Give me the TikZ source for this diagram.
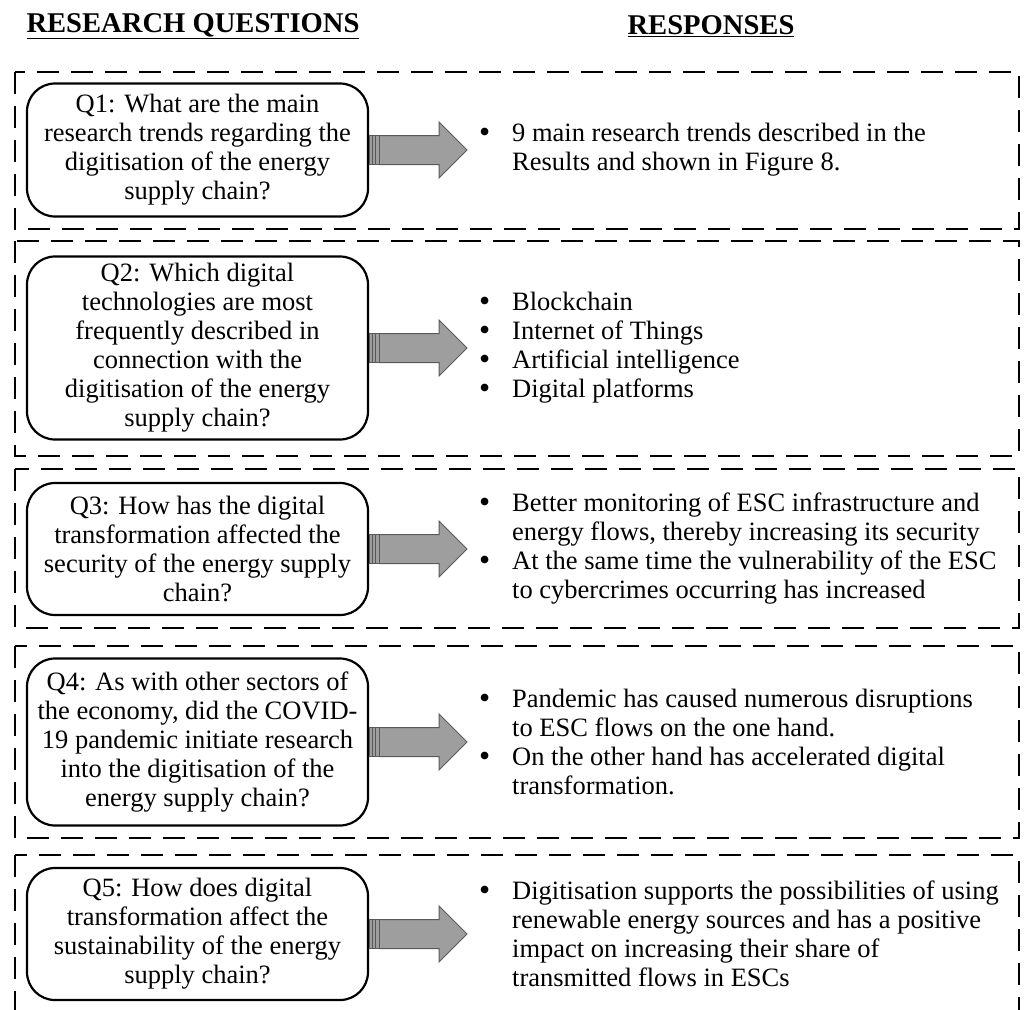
\documentclass[tikz,border=0pt]{standalone}
\usepackage{fontspec}
\setmainfont{Liberation Serif}
\usetikzlibrary{calc}

\tikzset{
  x=1pt, y=-1pt,
  body/.style={font=\fontsize{26.5}{29}\selectfont},
  qbox/.style={body, draw, line width=2.2pt, rounded corners=28pt,
    minimum width=341pt, align=center, inner sep=0pt},
  resp/.style={body, anchor=west, align=left, inner sep=0pt},
  group/.style={draw, line width=2.6pt, dash pattern=on 22pt off 12pt},
  heading/.style={font=\fontsize{28.6}{32}\selectfont\bfseries},
  arrowbody/.style={fill=black!38, draw=black!65, line width=1pt},
}

% bullet item lines
\newcommand\itm{\makebox[33pt][l]{\raisebox{-1pt}{\scalebox{1.2}{•}}}}
\newcommand\cont{\hspace*{33pt}}

% broad grey arrow with a ribbed tail, from the east side of #1 to the west side of #2
\newcommand\fatarrow[2]{%
  \path (#1.east) coordinate (#1-t0) ($(#2.west)+(-12,0)$) coordinate (#1-tip);
  \filldraw[arrowbody] ($(#1-t0)+(10,-14.5)$) -- ($(#1-tip)+(-28,-14.5)$)
    -- ($(#1-tip)+(-28,-28)$) -- (#1-tip) -- ($(#1-tip)+(-28,28)$)
    -- ($(#1-tip)+(-28,14.5)$) -- ($(#1-t0)+(10,14.5)$) -- cycle;
  \filldraw[arrowbody] ($(#1-t0)+(0,-14.5)$) rectangle ($(#1-t0)+(3.3,14.5)$);
  \filldraw[arrowbody] ($(#1-t0)+(3.3,-14.5)$) rectangle ($(#1-t0)+(6.6,14.5)$);
  \filldraw[arrowbody] ($(#1-t0)+(6.6,-14.5)$) rectangle ($(#1-t0)+(10,14.5)$);
}

\begin{document}
\begin{tikzpicture}
\useasboundingbox (0,0) rectangle (1025,1009);
\clip (0,0) rectangle (1025,1009);

% column headings
\node[heading] (hq) at (193,26) {\underline{RESEARCH QUESTIONS}};
\node[heading] (hr) at (711,26) {\underline{RESPONSES}};

% dashed frames, one per question
\draw[group] (15,72) rectangle (1019,229);
\draw[group] (15,241) rectangle (1019,456);
\draw[group] (15,469) rectangle (1019,628);
\draw[group] (15,646) rectangle (1019,838);
\draw[group] (15,855) rectangle (1019,1030);

% questions
\node[qbox, minimum height=133pt] (q1) at (197.5,150)
  {Q1: What are the main\\research trends regarding the\\digitisation of the energy\\supply chain?};
\node[qbox, minimum height=183pt] (q2) at (197.5,348)
  {Q2: Which digital\\technologies are most\\frequently described in\\connection with the\\digitisation of the energy\\supply chain?};
\node[qbox, minimum height=132pt] (q3) at (197.5,549)
  {Q3: How has the digital\\transformation affected the\\security of the energy supply\\chain?};
\node[qbox, minimum height=167pt] (q4) at (197.5,742)
  {Q4: As with other sectors of\\the economy, did the COVID-\\19 pandemic initiate research\\into the digitisation of the\\energy supply chain?};
\node[qbox, minimum height=132pt] (q5) at (197.5,934)
  {Q5: How does digital\\transformation affect the\\sustainability of the energy\\supply chain?};

% responses
\node[resp] (r1) at (479,150)
  {\itm 9 main research trends described in the\\\cont Results and shown in Figure 8.};
\node[resp] (r2) at (479,348)
  {\itm Blockchain\\\itm Internet of Things\\\itm Artificial intelligence\\\itm Digital platforms};
\node[resp] (r3) at (479,549)
  {\itm Better monitoring of ESC infrastructure and\\\cont energy flows, thereby increasing its security\\\itm At the same time the vulnerability of the ESC\\\cont to cybercrimes occurring has increased};
\node[resp] (r4) at (479,742)
  {\itm Pandemic has caused numerous disruptions\\\cont to ESC flows on the one hand.\\\itm On the other hand has accelerated digital\\\cont transformation.};
\node[resp] (r5) at (479,934)
  {\itm Digitisation supports the possibilities of using\\\cont renewable energy sources and has a positive\\\cont impact on increasing their share of\\\cont transmitted flows in ESCs};

% arrows from each question to its responses
\fatarrow{q1}{r1}
\fatarrow{q2}{r2}
\fatarrow{q3}{r3}
\fatarrow{q4}{r4}
\fatarrow{q5}{r5}
\end{tikzpicture}
\end{document}
